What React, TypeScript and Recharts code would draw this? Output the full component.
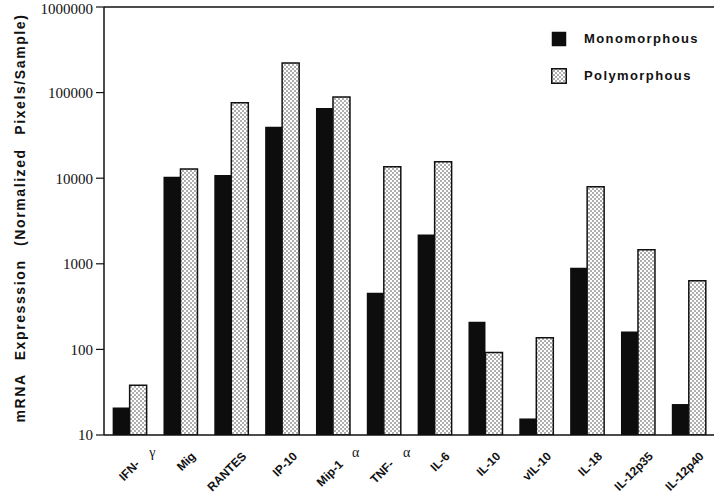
import { BarChart, Bar, XAxis, YAxis, ReferenceLine, Legend } from "recharts";

const CYTOKINES = [
  "IFN-γ",
  "Mig",
  "RANTES",
  "IP-10",
  "Mip-1α",
  "TNF-α",
  "IL-6",
  "IL-10",
  "vIL-10",
  "IL-18",
  "IL-12p35",
  "IL-12p40",
];
const MONOMORPHOUS = [21, 10400, 10900, 40000, 66000, 460, 2200, 210, 15.6, 900, 162, 23];
const POLYMORPHOUS = [38, 12800, 76000, 221000, 89000, 13600, 15600, 92, 137, 7950, 1460, 635];
const Y_TICKS = [10, 100, 1000, 10000, 100000, 1000000];

const SERIES = [
  { key: "mono", label: "Monomorphous", fill: "#0d0d0d", stroke: "none" },
  { key: "poly", label: "Polymorphous", fill: "url(#dots)", stroke: "#111" },
] as const;

const data = CYTOKINES.map((name, i) => ({
  name,
  mono: MONOMORPHOUS[i],
  poly: POLYMORPHOUS[i],
}));

const SANS = "'Liberation Sans', Arial, sans-serif";
const SERIF = "'Liberation Serif', 'Times New Roman', serif";
const INK = "#111";

// slanted label ends at the anchor; greek letters sit upright beside it
function CytokineTick({ x, y, payload }: any) {
  const label = String(payload.value);
  const last = label.slice(-1);
  const greek = /[α-ω]/.test(last);
  const main = greek ? label.slice(0, -1) : label;
  const ax = Number(x) + (greek ? 11 : 16);
  const ay = Number(y) + (greek ? 30 : 22);
  return (
    <g>
      <text
        x={ax}
        y={ay}
        transform={`rotate(-45, ${ax}, ${ay})`}
        textAnchor="end"
        fontFamily={SANS}
        fontWeight="bold"
        fontSize={12}
        fill={INK}
      >
        {main}
      </text>
      {greek && (
        <text x={Number(x) + 23} y={Number(y) + 22} textAnchor="middle" fontFamily={SERIF} fontSize={14} fill={INK}>
          {last}
        </text>
      )}
    </g>
  );
}

function YTitle({ viewBox }: any) {
  const cx = 20;
  const cy = viewBox ? viewBox.y + viewBox.height / 2 - 3 : 218;
  return (
    <g transform={`translate(${cx},${cy}) rotate(-90)`}>
      <text
        x={0}
        y={0}
        textAnchor="middle"
        dominantBaseline="central"
        fontFamily={SANS}
        fontWeight="bold"
        fontSize={14}
        letterSpacing={1.6}
        wordSpacing={8}
        fill={INK}
      >
        mRNA Expresssion (Normalized Pixels/Sample)
      </text>
    </g>
  );
}

function LegendBox() {
  return (
    <div style={{ fontFamily: SANS, fontWeight: "bold", fontSize: 13, color: INK, letterSpacing: 1.4 }}>
      {SERIES.map((s) => (
        <div key={s.key} style={{ display: "flex", alignItems: "center", height: 37 }}>
          <svg width={16} height={16} style={{ marginRight: 17 }}>
            <rect x={0.75} y={0.75} width={14.5} height={14.5} fill={s.fill} stroke={s.stroke} strokeWidth={1.5} />
          </svg>
          <span>{s.label}</span>
        </div>
      ))}
    </div>
  );
}

export default function App() {
  return (
    <div style={{ position: "absolute", left: 0, top: 0, background: "#fff" }}>
      <svg width={0} height={0} style={{ position: "absolute" }}>
        <defs>
          <pattern id="dots" width={4} height={4} patternUnits="userSpaceOnUse">
            <rect width={4} height={4} fill="#fff" />
            <circle cx={1} cy={1} r={0.7} fill="#222" />
            <circle cx={3} cy={3} r={0.7} fill="#222" />
          </pattern>
        </defs>
      </svg>
      <BarChart
        width={720}
        height={500}
        data={data}
        margin={{ top: 7, right: 6, left: 0, bottom: 5 }}
        barCategoryGap="17%"
        barGap={0}
      >
        <XAxis
          dataKey="name"
          height={60}
          interval={0}
          tickLine={false}
          tickSize={0}
          tickMargin={0}
          axisLine={{ stroke: INK, strokeWidth: 1.5 }}
          tick={<CytokineTick />}
        />
        <YAxis
          scale="log"
          domain={[10, 1000000]}
          ticks={Y_TICKS}
          allowDataOverflow
          width={104}
          tickSize={8}
          tickMargin={3}
          axisLine={{ stroke: INK, strokeWidth: 1.5 }}
          tickLine={{ stroke: INK, strokeWidth: 1.2 }}
          tick={{ fontFamily: SERIF, fontSize: 15, fill: INK }}
          tickFormatter={(v: number) => String(v)}
          label={<YTitle />}
        />
        <YAxis
          yAxisId="frame"
          orientation="right"
          width={0}
          tick={false}
          tickLine={false}
          axisLine={{ stroke: INK, strokeWidth: 1.5 }}
        />
        <ReferenceLine y={1000000} stroke={INK} strokeWidth={1.5} />
        <Legend
          layout="vertical"
          align="center"
          verticalAlign="middle"
          wrapperStyle={{ left: 551, top: 20, width: 170 }}
          content={<LegendBox />}
        />
        {SERIES.map((s) => (
          <Bar
            key={s.key}
            dataKey={s.key}
            name={s.label}
            fill={s.fill}
            stroke={s.stroke}
            strokeWidth={s.key === "poly" ? 1.5 : 0}
            isAnimationActive={false}
          />
        ))}
      </BarChart>
    </div>
  );
}
